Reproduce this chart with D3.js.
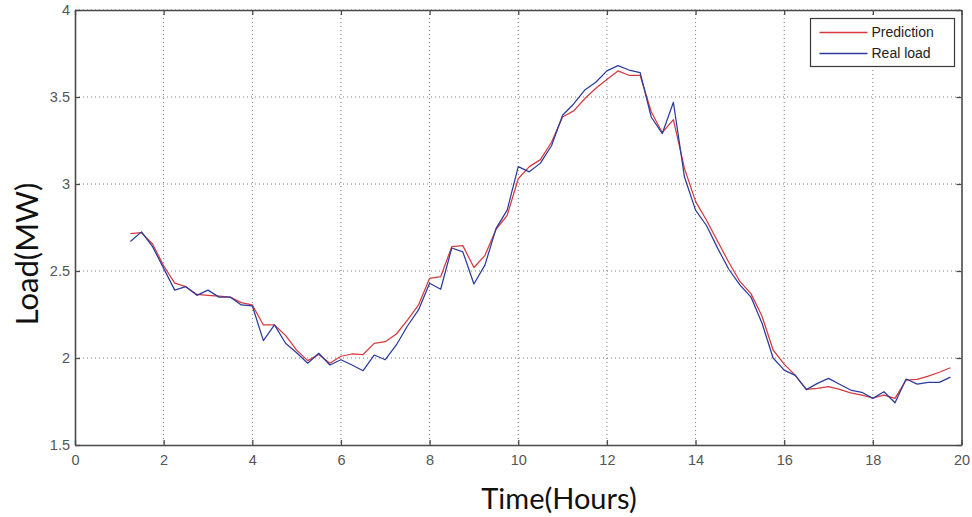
<!DOCTYPE html>
<html>
<head>
<meta charset="utf-8">
<script src="https://cdn.jsdelivr.net/npm/d3@7"></script>
<style>
  html, body { margin: 0; padding: 0; background: #fff; }
  svg { display: block; }
</style>
</head>
<body>
<svg id="chart" width="972" height="517"></svg>
<script>
// Sampling grid: quarter-hour steps from 1.25 h to 19.75 h
const startHour = 1.25;
const stepHour = 0.25;

// Predicted load (MW)
const prediction = [
  2.715, 2.72, 2.655, 2.53, 2.43, 2.41, 2.365, 2.36, 2.355, 2.35,
  2.318, 2.305, 2.19, 2.19, 2.13, 2.045, 1.985, 2.02, 1.97, 2.01,
  2.023, 2.02, 2.084, 2.094, 2.138, 2.218, 2.305, 2.458, 2.467, 2.64,
  2.646, 2.52, 2.59, 2.74, 2.82, 3.03, 3.10, 3.14, 3.24, 3.385,
  3.42, 3.49, 3.55, 3.60, 3.65, 3.625, 3.625, 3.415, 3.295, 3.37,
  3.09, 2.90, 2.79, 2.67, 2.55, 2.44, 2.37, 2.24, 2.046, 1.965,
  1.90, 1.82, 1.826, 1.835, 1.82, 1.80, 1.787, 1.77, 1.787, 1.768,
  1.873, 1.877, 1.896, 1.918, 1.944
];

// Measured load (MW)
const realLoad = [
  2.67, 2.725, 2.64, 2.515, 2.39, 2.41, 2.36, 2.39, 2.35, 2.35,
  2.305, 2.30, 2.10, 2.19, 2.085, 2.03, 1.97, 2.027, 1.96, 1.99,
  1.96, 1.927, 2.017, 1.99, 2.075, 2.184, 2.276, 2.43, 2.395, 2.632,
  2.61, 2.425, 2.535, 2.745, 2.85, 3.10, 3.07, 3.12, 3.22, 3.395,
  3.46, 3.54, 3.585, 3.65, 3.68, 3.655, 3.64, 3.385, 3.29, 3.47,
  3.04, 2.85, 2.76, 2.63, 2.51, 2.42, 2.35, 2.20, 2.00, 1.93,
  1.90, 1.818, 1.854, 1.883, 1.849, 1.816, 1.803, 1.768, 1.806, 1.743,
  1.879, 1.85, 1.86, 1.86, 1.89
];

const xTicks = [0, 2, 4, 6, 8, 10, 12, 14, 16, 18, 20];
const yTicks = [1.5, 2, 2.5, 3, 3.5, 4];
const seriesNames = ["Prediction", "Real load"];
const seriesColors = ["#d63a3e", "#2c3c9c"];

const hours = prediction.map((_, i) => startHour + i * stepHour);

const svg = d3.select("#chart");
const W = 972, H = 517;
const margin = { top: 10, right: 10.5, bottom: 72, left: 75 };
const iw = W - margin.left - margin.right;
const ih = H - margin.top - margin.bottom;

const x = d3.scaleLinear().domain([0, 20]).range([0, iw]);
const y = d3.scaleLinear().domain([1.5, 4]).range([ih, 0]);

const g = svg.append("g").attr("transform", `translate(${margin.left},${margin.top})`);

// Dotted grid
const grid = g.append("g").attr("stroke", "#7a7a7a").attr("stroke-width", 1)
  .attr("stroke-dasharray", "1,3");
grid.selectAll("line.vx").data(xTicks.slice(1, -1)).join("line")
  .attr("x1", d => x(d)).attr("x2", d => x(d)).attr("y1", 0).attr("y2", ih);
grid.selectAll("line.hy").data(yTicks.slice(1)).join("line")
  .attr("x1", 0).attr("x2", iw).attr("y1", d => y(d)).attr("y2", d => y(d));

// Series lines
const line = d3.line().x((d, i) => x(hours[i])).y(d => y(d));
[prediction, realLoad].forEach((series, k) => {
  g.append("path").datum(series)
    .attr("fill", "none")
    .attr("stroke", seriesColors[k])
    .attr("stroke-width", 1.25)
    .attr("stroke-linejoin", "round")
    .attr("d", line);
});

// Axes with inward ticks on all four sides
const tickFont = "Liberation Sans, Arial, sans-serif";
const axisColor = "#4a4a4a";

const xAxis = g.append("g").attr("transform", `translate(0,${ih})`)
  .call(d3.axisBottom(x).tickValues(xTicks).tickSizeInner(-5).tickSizeOuter(0).tickPadding(10).tickFormat(d3.format("d")));
const yAxis = g.append("g")
  .call(d3.axisLeft(y).tickValues(yTicks).tickSizeInner(-5).tickSizeOuter(0).tickPadding(5).tickFormat(d => String(d)));
const xTop = g.append("g")
  .call(d3.axisTop(x).tickValues(xTicks).tickSizeInner(-5).tickSizeOuter(0).tickFormat(""));
const yRight = g.append("g").attr("transform", `translate(${iw},0)`)
  .call(d3.axisRight(y).tickValues(yTicks).tickSizeInner(-5).tickSizeOuter(0).tickFormat(""));

[xAxis, yAxis, xTop, yRight].forEach(a => {
  a.select(".domain").attr("stroke", axisColor).attr("stroke-width", 1.6);
  a.selectAll(".tick line").attr("stroke", axisColor).attr("stroke-width", 1.3);
  a.selectAll(".tick text").attr("fill", "#555")
    .attr("font-family", tickFont).attr("font-size", 14.5);
});
yAxis.selectAll(".tick text").attr("dy", "0.32em");

// Axis titles
svg.append("text")
  .attr("x", 559).attr("y", 509)
  .attr("text-anchor", "middle")
  .attr("font-family", "Lato, 'Open Sans', sans-serif")
  .attr("font-size", 29)
  .attr("fill", "#111")
  .text("Time(Hours)");

svg.append("text")
  .attr("transform", "translate(38,254) rotate(-90)")
  .attr("text-anchor", "middle")
  .attr("font-family", "Lato, 'Open Sans', sans-serif")
  .attr("font-size", 31)
  .attr("fill", "#111")
  .text("Load(MW)");

// Legend
const legend = g.append("g").attr("transform", `translate(${x(20) - 151},8.5)`);
legend.append("rect").attr("width", 144).attr("height", 48)
  .attr("fill", "#fff").attr("stroke", "#3a3a3a").attr("stroke-width", 1.2);
seriesNames.forEach((name, k) => {
  const ly = 14 + k * 21;
  legend.append("line").attr("x1", 9).attr("x2", 57).attr("y1", ly).attr("y2", ly)
    .attr("stroke", seriesColors[k]).attr("stroke-width", 1.3);
  legend.append("text").attr("x", 61).attr("y", ly).attr("dy", "0.35em")
    .attr("font-family", tickFont).attr("font-size", 14).attr("fill", "#222")
    .text(name);
});
</script>
</body>
</html>
